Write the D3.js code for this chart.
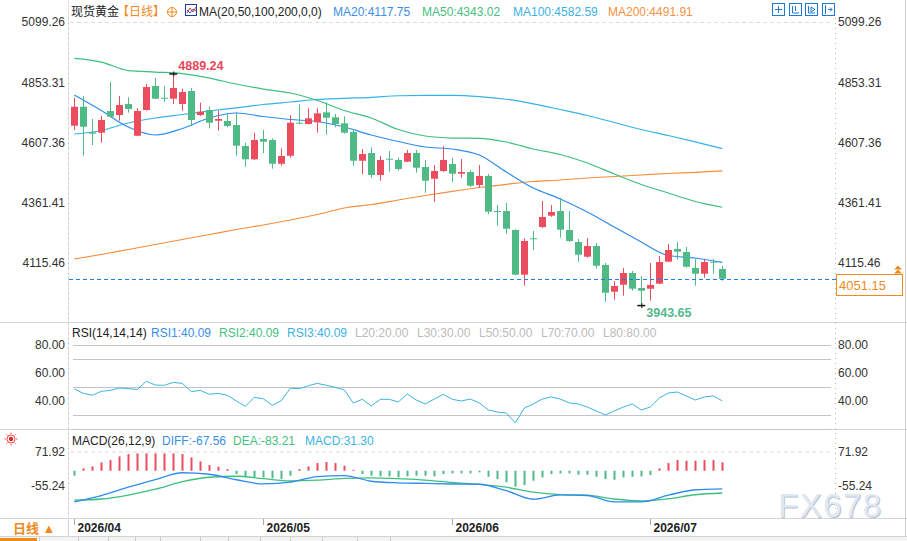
<!DOCTYPE html>
<html>
<head>
<meta charset="utf-8">
<script src="https://cdn.jsdelivr.net/npm/d3@7"></script>
<style>
  body { margin: 0; background: #fff; }
  svg { display: block; }
  text { font-family: "Liberation Sans", Arial, "Noto Sans CJK SC", sans-serif; }
</style>
</head>
<body>
<svg width="907" height="541"></svg>
<script>
// K线数据 (2026/04 - 2026/07 日线)
const open  = [4675.8,4753.4,4648.9,4647.3,4735.9,4719.5,4764.4,4635.0,4739.9,4837.9,4790.1,4786.1,4764.4,4817.5,4719.5,4739.9,4696.3,4695.1,4678.7,4593.0,4538.7,4621.6,4617.5,4520.7,4553.4,4688.1,4682.8,4689.7,4730.5,4710.2,4685.7,4650.1,4533.0,4564.4,4474.6,4541.2,4535.9,4528.9,4564.4,4507.3,4459.5,4491.0,4519.5,4480.0,4486.9,4433.8,4470.5,4327.7,4327.7,4250.1,4067.7,4216.3,4262.4,4308.5,4327.7,4250.1,4201.2,4141.2,4184.8,4107.3,3998.3,4026.9,4074.6,4013.4,4010.5,4031.0,4120.8,4172.6,4160.3,4095.0,4071.8,4120.8,4091.0]
const high  = [4790.1,4797.1,4703.2,4715.5,4855.4,4797.1,4791.8,4746.9,4847.3,4871.8,4837.9,4889.24,4826.9,4829.7,4769.7,4753.4,4737.1,4723.6,4733.0,4606.5,4647.3,4658.3,4624.4,4583.6,4719.5,4763.2,4746.9,4746.9,4771.4,4723.6,4714.2,4661.1,4580.7,4587.7,4552.2,4572.6,4545.3,4576.7,4576.7,4535.9,4515.4,4593.0,4545.3,4539.9,4495.0,4515.4,4478.7,4352.2,4360.3,4253.0,4216.3,4246.0,4368.5,4352.2,4382.0,4327.7,4213.4,4217.5,4197.1,4115.5,4042.0,4095.0,4082.8,4062.4,4115.5,4144.0,4193.0,4201.2,4180.8,4131.8,4131.8,4131.8,4103.2]
const low   = [4658.3,4553.4,4597.1,4606.5,4710.0,4696.3,4728.9,4633.0,4738.0,4784.0,4773.8,4764.4,4737.1,4674.6,4715.5,4665.2,4655.4,4669.3,4553.4,4508.5,4535.9,4563.2,4500.3,4512.6,4545.3,4682.0,4681.5,4647.3,4639.1,4669.3,4643.2,4512.6,4478.7,4463.6,4451.3,4488.1,4492.2,4527.0,4484.0,4402.4,4365.6,4486.9,4446.0,4463.6,4425.6,4422.8,4314.2,4267.7,4235.0,4066.0,4022.8,4168.5,4258.3,4304.4,4218.7,4201.2,4120.8,4137.1,4092.2,3957.5,3965.6,3981.9,4002.4,3943.65,3961.5,4029.0,4119.0,4128.9,4096.3,4022.8,4055.4,4071.8,4043.2]
const close = [4753.4,4671.7,4643.2,4699.1,4712.6,4760.3,4744.0,4735.9,4833.8,4786.1,4786.1,4829.7,4813.4,4699.1,4733.0,4688.1,4703.2,4674.6,4594.2,4538.7,4617.5,4610.5,4520.7,4552.2,4688.1,4684.0,4706.1,4726.5,4708.5,4682.8,4647.3,4533.0,4560.3,4474.6,4535.9,4537.1,4499.1,4564.4,4504.4,4451.3,4491.0,4535.9,4480.0,4486.9,4430.9,4470.5,4324.8,4324.8,4255.4,4067.7,4205.3,4212.2,4303.2,4323.6,4251.4,4205.3,4149.3,4184.8,4104.4,3994.2,4021.6,4074.6,4010.5,4002.4,4025.7,4119.5,4168.5,4161.6,4100.4,4071.8,4119.5,4116.7,4051.15]

// 均线 (每3根K线取一个值)
const ma20  = [4801.1,4737.9,4670.5,4637.9,4664.4,4707.3,4727.7,4713.4,4701.2,4693.0,4670.5,4637.9,4611.4,4588.9,4580.7,4556.3,4486.9,4421.6,4376.7,4323.6,4262.4,4201.2,4146.1,4135.9,4117.75]
const ma50  = [4950.9,4935.8,4901.1,4895.0,4888.9,4870.5,4846.1,4825.6,4809.3,4778.7,4737.9,4707.3,4660.3,4633.8,4625.6,4624.4,4609.3,4580.7,4558.3,4523.6,4478.7,4435.8,4401.2,4366.5,4343.02]
const ma100 = [4642.0,4656.3,4686.9,4707.3,4721.6,4735.9,4748.9,4762.4,4772.6,4782.8,4787.7,4791.8,4798.3,4799.9,4799.9,4795.0,4784.0,4765.3,4742.0,4717.5,4689.0,4660.3,4635.9,4610.2,4582.59]
const ma200 = [4131.8,4150.2,4170.6,4191.0,4211.4,4231.8,4252.2,4270.5,4290.9,4313.4,4339.9,4354.2,4372.6,4391.0,4408.1,4423.6,4436.6,4448.1,4454.2,4462.4,4468.5,4474.6,4480.8,4485.7,4491.91]

// RSI
const rsi = [48.6,45.5,44.1,46.9,47.6,49.3,48.8,48.3,54.1,51.4,51.2,53.3,52.6,46.7,47.6,44.8,45.5,44.1,40.0,36.2,42.6,41.6,36.9,40.2,49.1,48.8,50.9,52.6,51.2,49.8,47.9,38.6,41.2,36.4,41.2,41.2,39.3,45.0,40.7,37.9,41.4,44.8,41.2,40.0,41.4,38.6,33.6,32.1,31.4,24.3,35.0,37.9,41.4,42.9,41.4,38.6,37.9,35.7,32.9,30.0,32.9,35.7,37.9,33.6,35.7,42.1,45.7,46.4,43.6,40.7,42.9,43.6,40.09]
const rsiLevels = [20, 30, 50, 70, 80]

// MACD
const macdHist = [-18.7,8.7,16.2,31.2,39.9,53.6,62.3,64.8,64.8,64.8,64.8,64.8,62.3,49.9,34.9,21.2,15.0,6.2,-12.5,-21.2,-24.9,-24.9,-28.7,-31.2,-18.7,6.2,16.2,28.7,32.4,28.7,18.7,3.7,-12.5,-18.7,-21.2,-21.2,-24.9,-21.2,-18.7,-18.7,-21.2,-12.5,-10.0,-10.0,-10.0,-6.2,-22.4,-31.2,-43.6,-59.8,-53.6,-37.4,-24.9,-12.5,-10.0,-10.0,-15.0,-15.0,-22.4,-31.2,-33.7,-24.9,-22.4,-21.2,-16.2,8.7,28.7,39.9,37.4,37.4,39.9,39.9,31.30]
const diff = [-116.7,-92.7,-61.7,-33.7,-7.5,-13.1,-33.7,-49.4,-43.0,-21.7,-18.0,-39.3,-45.3,-47.5,-49.7,-50.5,-74.8,-106.6,-90.5,-92.7,-116.7,-116.7,-91.6,-71.1,-67.56]
const dea  = [-110.3,-105.8,-90.9,-69.2,-41.1,-24.3,-20.6,-29.9,-38.5,-35.5,-28.8,-26.6,-29.9,-34.8,-44.1,-51.2,-61.7,-80.4,-89.4,-91.6,-105.8,-112.9,-104.7,-89.8,-83.21]

const priceTicks = [5099.26, 4853.31, 4607.36, 4361.41, 4115.46]
const rsiTicks = [80, 60, 40]
const macdTicks = [71.92, -55.24]
const monthLabels = ['2026/04', '2026/05', '2026/06', '2026/07']
const monthStart = [0, 21, 42, 64]
const lastPrice = 4051.15

const red = '#ec4d5e', green = '#50ba86'
const cMA20 = '#2d8cf0', cMA50 = '#3dbf7e', cMA100 = '#34b2e8', cMA200 = '#f78c3a'
const orange = '#f08a1c'

const svg = d3.select('svg')
const W = 907

// 比例尺
const x = d3.scaleLinear().domain([0, close.length - 1]).range([74.3, 722.3])
const yMain = d3.scaleLinear().domain([4115.46, 5099.26]).range([263, 22])
const yRsi = d3.scaleLinear().domain([20, 80]).range([429, 345])
const yMacd = d3.scaleLinear().domain([-55.24, 71.92]).range([485.5, 451.5])
const sampleX = i => x(i * 3)

// 分隔线
const frame = svg.append('g')
frame.selectAll('line.sep').data([322.5, 429.5, 518.5, 536.5]).enter().append('line')
  .attr('x1', 0).attr('x2', W).attr('y1', d => d).attr('y2', d => d)
  .attr('stroke', '#d4d4d4')
frame.append('line').attr('x1', 905.5).attr('x2', 905.5).attr('y1', 0).attr('y2', 537).attr('stroke', '#cfcfcf')
frame.append('line').attr('x1', 68.5).attr('x2', 68.5).attr('y1', 0).attr('y2', 537).attr('stroke', '#e3e3e3')
frame.append('line').attr('x1', 68.5).attr('x2', 68.5).attr('y1', 18).attr('y2', 518).attr('stroke', '#b8b8b8').attr('stroke-dasharray', '1,4')
frame.append('line').attr('x1', 835.5).attr('x2', 835.5).attr('y1', 18).attr('y2', 518).attr('stroke', '#b8b8b8').attr('stroke-dasharray', '1,4')

// 顶部虚线
svg.append('line').attr('x1', 70).attr('x2', 831).attr('y1', yMain(priceTicks[0]) + 0.5).attr('y2', yMain(priceTicks[0]) + 0.5)
  .attr('stroke', '#dedede').attr('stroke-dasharray', '4,3')
svg.append('line').attr('x1', 70).attr('x2', 831).attr('y1', yMacd(macdTicks[0]) + 0.5).attr('y2', yMacd(macdTicks[0]) + 0.5)
  .attr('stroke', '#dedede').attr('stroke-dasharray', '4,3')

// 坐标轴
function axes(scale, ticks, fmt) {
  const l = svg.append('g').attr('transform', 'translate(68,0)')
    .call(d3.axisLeft(scale).tickValues(ticks).tickSize(0).tickPadding(3).tickFormat(fmt))
  const r = svg.append('g').attr('transform', 'translate(836,0)')
    .call(d3.axisRight(scale).tickValues(ticks).tickSize(0).tickPadding(2).tickFormat(fmt))
  ;[l, r].forEach(g => {
    g.select('.domain').remove()
    g.selectAll('text').attr('font-size', 12).attr('fill', '#333')
  })
}
axes(yMain, priceTicks, d => d.toFixed(2))
axes(yRsi, rsiTicks, d => d.toFixed(2))
axes(yMacd, macdTicks, d => d.toFixed(2))

// 均线
const maLine = d3.line().x((d, i) => sampleX(i)).y(d => yMain(d)).curve(d3.curveMonotoneX)
;[[ma200, cMA200], [ma100, cMA100], [ma50, cMA50], [ma20, cMA20]].forEach(([arr, c]) => {
  svg.append('path').attr('d', maLine(arr)).attr('fill', 'none').attr('stroke', c).attr('stroke-width', 1.2)
})

// K线
const candles = svg.append('g').selectAll('g').data(close).enter().append('g')
candles.append('line')
  .attr('x1', (d, i) => Math.round(x(i)) + 0.5).attr('x2', (d, i) => Math.round(x(i)) + 0.5)
  .attr('y1', (d, i) => yMain(high[i])).attr('y2', (d, i) => yMain(low[i]))
  .attr('stroke', (d, i) => close[i] >= open[i] ? red : green)
candles.append('rect')
  .attr('x', (d, i) => Math.round(x(i)) - 3)
  .attr('width', 7)
  .attr('y', (d, i) => yMain(Math.max(open[i], close[i])))
  .attr('height', (d, i) => Math.max(1, Math.abs(yMain(open[i]) - yMain(close[i]))))
  .attr('fill', (d, i) => close[i] >= open[i] ? red : green)

// 最高/最低标记
const hiIdx = d3.maxIndex(high), loIdx = d3.minIndex(low)
function marker(i, v, color, dy) {
  const cx = x(i), cy = yMain(v)
  svg.append('line').attr('x1', cx - 4).attr('x2', cx + 4).attr('y1', cy + 0.5).attr('y2', cy + 0.5).attr('stroke', '#111').attr('stroke-width', 1.5)
  svg.append('line').attr('x1', cx + 0.5).attr('x2', cx + 0.5).attr('y1', cy - 2).attr('y2', cy + 3).attr('stroke', '#111')
  svg.append('text').attr('x', cx + 5).attr('y', cy + dy).attr('font-size', 12.5)
    .attr('fill', color).attr('font-weight', 'bold').text(v.toFixed(2))
}
marker(hiIdx, high[hiIdx], '#e8455a', -3)
marker(loIdx, low[loIdx], '#52b98b', 12)

// 当前价
const yLast = Math.round(yMain(lastPrice)) + 0.5
svg.append('line').attr('x1', 69).attr('x2', 836).attr('y1', yLast).attr('y2', yLast)
  .attr('stroke', '#1e7fe6').attr('stroke-dasharray', '4,3')
svg.append('rect').attr('x', 836.5).attr('y', yLast - 5).attr('width', 66).attr('height', 21)
  .attr('fill', '#fff').attr('stroke', orange)
svg.append('text').attr('x', 839).attr('y', yLast + 10).attr('font-size', 13).attr('fill', orange).text(lastPrice.toFixed(2))
svg.append('path').attr('d', `M894,${yLast - 6}L898,${yLast - 10}L902,${yLast - 6}ZM894,${yLast - 10}L898,${yLast - 14}L902,${yLast - 10}Z`)
  .attr('fill', orange)

// RSI
svg.selectAll('line.lv').data(rsiLevels).enter().append('line')
  .attr('x1', 73).attr('x2', 831).attr('y1', d => Math.round(yRsi(d)) + 0.5).attr('y2', d => Math.round(yRsi(d)) + 0.5)
  .attr('stroke', '#c4c4c4')
svg.append('path').attr('d', d3.line().x((d, i) => x(i)).y(d => yRsi(d))(rsi))
  .attr('fill', 'none').attr('stroke', '#3cb2e3').attr('stroke-width', 1)

// MACD
svg.append('g').selectAll('rect').data(macdHist).enter().append('rect')
  .attr('x', (d, i) => Math.round(x(i)) - 0.5).attr('width', 2)
  .attr('y', d => yMacd(Math.max(0, d))).attr('height', d => Math.abs(yMacd(d) - yMacd(0)))
  .attr('fill', d => d >= 0 ? red : green)
const macdLine = d3.line().x((d, i) => sampleX(i)).y(d => yMacd(d)).curve(d3.curveMonotoneX)
svg.append('path').attr('d', macdLine(dea)).attr('fill', 'none').attr('stroke', '#3dbf7e').attr('stroke-width', 1.3)
svg.append('path').attr('d', macdLine(diff)).attr('fill', 'none').attr('stroke', '#2d8cf0').attr('stroke-width', 1.3)

// 图例
function legend(y, items) {
  items.forEach(([tx, xx, c]) => {
    svg.append('text').attr('x', xx).attr('y', y).attr('font-size', 12).attr('fill', c).text(tx)
  })
}
legend(16, [['现货黄金', 71, '#222'], ['【日线】', 117, orange], ['MA(20,50,100,200,0,0)', 199, '#222'],
  ['MA20:4117.75', 333, '#3a8ee6'], ['MA50:4343.02', 422, '#45c07e'], ['MA100:4582.59', 513, '#3cb2e3'], ['MA200:4491.91', 608, '#f59143']])
legend(337, [['RSI(14,14,14)', 72, '#222'], ['RSI1:40.09', 151, '#3a8ee6'], ['RSI2:40.09', 219, '#45c07e'], ['RSI3:40.09', 287, '#3cb2e3'],
  ['L20:20.00', 355, '#bbb'], ['L30:30.00', 417, '#bbb'], ['L50:50.00', 479, '#bbb'], ['L70:70.00', 541, '#bbb'], ['L80:80.00', 603, '#bbb']])
legend(445, [['MACD(26,12,9)', 72, '#222'], ['DIFF:-67.56', 162, '#3a8ee6'], ['DEA:-83.21', 233, '#45c07e'], ['MACD:31.30', 305, '#3cb2e3']])

// 小图标
const ic = svg.append('g')
ic.append('circle').attr('cx', 172).attr('cy', 12).attr('r', 4.5).attr('fill', 'none').attr('stroke', orange)
ic.append('path').attr('d', 'M167.5,12H176.5M172,7.5V16.5').attr('stroke', orange)
ic.append('rect').attr('x', 185.5).attr('y', 4.5).attr('width', 11).attr('height', 11).attr('fill', '#fff').attr('stroke', '#1d3f9c')
ic.append('path').attr('d', 'M187,13L190,8L193,12L196,7').attr('fill', 'none').attr('stroke', '#e33')
ic.append('path').attr('d', 'M187,10L190,13L193,9L196,11').attr('fill', 'none').attr('stroke', '#36c')
;[772, 789, 805, 822].forEach((xx, k) => {
  ic.append('rect').attr('x', xx + 0.5).attr('y', 3.5).attr('width', 12).attr('height', 12).attr('fill', '#fff').attr('stroke', '#1e78d6')
  const p = [
    `M${xx + 6.5},6V13M${xx + 3},9.5H${xx + 10}`,
    `M${xx + 3.5},6V13H${xx + 10}M${xx + 6.5},6V11`,
    `M${xx + 3.5},6V13H${xx + 10}M${xx + 6},7L${xx + 10},9.5L${xx + 6},12Z`,
    `M${xx + 3.5},5V14M${xx + 6},9.5H${xx + 10}M${xx + 8},7.5L${xx + 10},9.5L${xx + 8},11.5`
  ][k]
  ic.append('path').attr('d', p).attr('fill', 'none').attr('stroke', '#1e78d6')
})
// MACD 面板左侧图标
ic.append('circle').attr('cx', 11).attr('cy', 439).attr('r', 2.2).attr('fill', '#e22')
ic.append('circle').attr('cx', 11).attr('cy', 439).attr('r', 4).attr('fill', 'none').attr('stroke', '#e22').attr('stroke-width', 0.8)
d3.range(8).forEach(k => {
  const a = k * Math.PI / 4
  ic.append('line').attr('x1', 11 + Math.cos(a) * 5).attr('y1', 439 + Math.sin(a) * 5)
    .attr('x2', 11 + Math.cos(a) * 6.5).attr('y2', 439 + Math.sin(a) * 6.5).attr('stroke', '#e22').attr('stroke-width', 0.8)
})

// 时间轴
const xa = svg.append('g')
monthLabels.forEach((m, k) => {
  const xx = Math.round(x(monthStart[k])) + 0.5
  xa.append('line').attr('x1', xx).attr('x2', xx).attr('y1', 519).attr('y2', 525).attr('stroke', '#aaa')
  xa.append('text').attr('x', xx + 3).attr('y', 532).attr('font-size', 12).attr('font-weight', 'bold').attr('fill', '#222').text(m)
})
svg.append('line').attr('x1', 68.5).attr('x2', 68.5).attr('y1', 519).attr('y2', 536).attr('stroke', '#d4d4d4')
svg.append('text').attr('x', 13).attr('y', 533).attr('font-size', 13).attr('font-weight', 'bold').attr('fill', orange).text('日线 ▲')

// 底部标签栏
svg.append('rect').attr('x', 0).attr('y', 537).attr('width', W).attr('height', 4).attr('fill', '#f4f4f4')
svg.append('rect').attr('x', 0).attr('y', 538).attr('width', 37).attr('height', 3).attr('fill', orange)
;[39, 78, 108, 135, 160, 200, 228, 260, 290, 322, 357, 390].forEach(xx => {
  svg.append('line').attr('x1', xx + 0.5).attr('x2', xx + 0.5).attr('y1', 537).attr('y2', 541).attr('stroke', '#ccc')
})

// 水印
svg.append('text').attr('x', 779).attr('y', 518).attr('font-size', 33).attr('letter-spacing', 1.5)
  .attr('fill', '#b7c3d3').text('FX678')
svg.append('text').attr('x', 778).attr('y', 517).attr('font-size', 33).attr('letter-spacing', 1.5)
  .attr('fill', '#e1e8f1').text('FX678')
</script>
</body>
</html>
